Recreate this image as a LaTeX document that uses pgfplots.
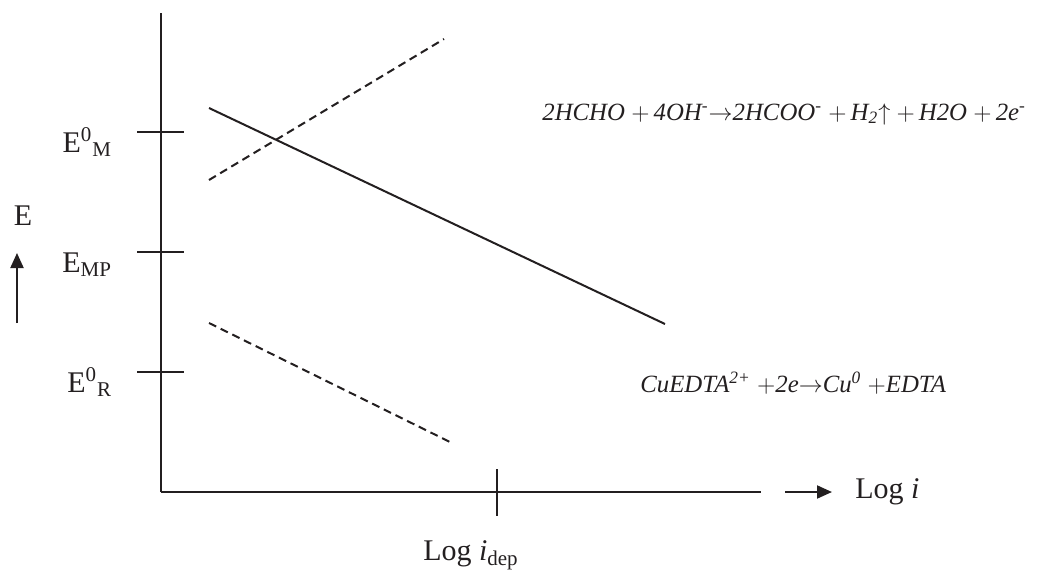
\documentclass[border=0pt]{standalone}
\usepackage{fontspec}
\setmainfont{Liberation Serif}
\usepackage{pgfplots}
\pgfplotsset{compat=1.18}
\usetikzlibrary{arrows.meta}
\definecolor{ink}{HTML}{231F20}
\newcommand{\pl}{\ensuremath{+}}
\newcommand{\ra}{\ensuremath{\rightarrow}}
\begin{document}
\begin{tikzpicture}
\begin{axis}[
 width=300pt, height=239.5pt, scale only axis,
 xmin=0, xmax=600, ymin=0, ymax=479,
 axis x line*=bottom, axis y line*=left,
 axis line style={line width=1pt, ink},
 xtick={336}, xticklabels={Log \textit{i}\textsubscript{dep}},
 ytick={120,240,360},
 yticklabels={E\textsuperscript{0}\textsubscript{R}, E\textsubscript{MP}, E\textsuperscript{0}\textsubscript{M}},
 tick align=center, major tick length=23.5pt,
 tick style={line width=1pt, ink},
 clip=false,
 every tick label/.append style={font=\fontsize{15}{18}\selectfont, text=ink, inner sep=0pt},
 yticklabel style={anchor=base east, yshift=-10pt, xshift=-12.5pt},
 xticklabel style={anchor=base, xshift=-13pt, yshift=-22.5pt},
]
\addplot[ink, line width=1pt] coordinates {(48,384) (504,168)};
\addplot[ink, line width=1pt, dash pattern=on 4pt off 2.5pt] coordinates {(48,312) (283,453)};
\addplot[ink, line width=1pt, dash pattern=on 4pt off 2.5pt] coordinates {(48,169) (291,49)};
\addplot[ink, line width=1pt, -{Triangle[length=7.5pt,width=6.5pt]}] coordinates {(624,0) (671,0)};
\addplot[ink, line width=1pt, -{Triangle[length=7.5pt,width=6.5pt]}] coordinates {(-144,169) (-144,239)};
\node[anchor=west, inner sep=0pt, text=ink, font=\fontsize{15}{18}\selectfont] at (axis cs:694,0) {Log \textit{i}};
\node[inner sep=0pt, text=ink, font=\fontsize{15}{18}\selectfont] at (axis cs:-138,276) {E};
\node[anchor=west, inner sep=0pt, text=ink, font=\fontsize{12.4}{14}\selectfont\itshape] at (axis cs:381,378)
 {2HCHO \pl\,4OH\textsuperscript{-}\ra2HCOO\textsuperscript{-} \pl\,H\textsubscript{2}\ensuremath{\uparrow} \pl\,H2O \pl\,2e\textsuperscript{-}};
\node[anchor=west, inner sep=0pt, text=ink, font=\fontsize{12.4}{14}\selectfont\itshape] at (axis cs:479,109)
 {CuEDTA\textsuperscript{2+} \pl2e\ra Cu\textsuperscript{0} \pl EDTA};
\coordinate (bl) at (axis cs:-161,-78);
\coordinate (tr) at (axis cs:880,492);
\end{axis}
\pgfresetboundingbox
\path (bl) rectangle (tr);
\end{tikzpicture}
\end{document}
